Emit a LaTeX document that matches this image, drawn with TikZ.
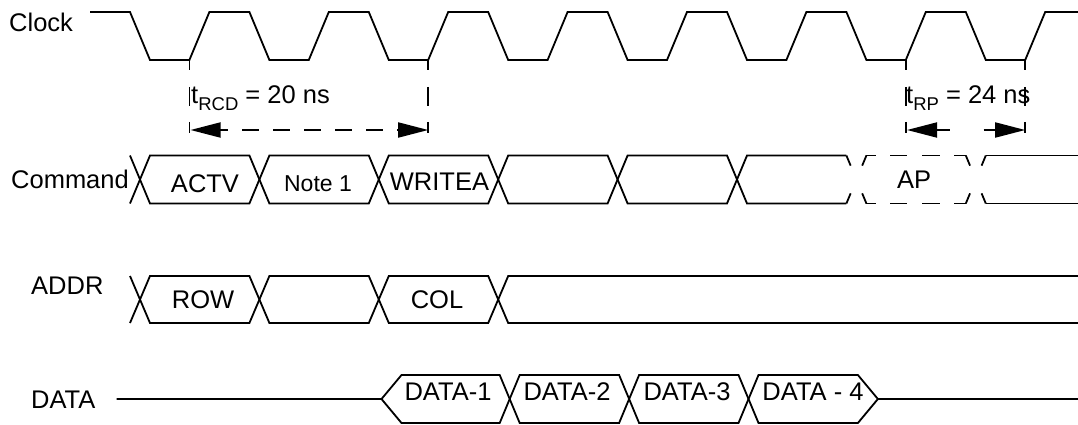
\documentclass[tikz,border=0pt]{standalone}
\usepackage{fontspec}
\setmainfont{Liberation Sans}
\usetikzlibrary{arrows.meta}
\begin{document}
\begin{tikzpicture}[x=1pt,y=-1pt,
  sig/.style={line width=1.8pt},
  txt/.style={inner sep=0pt, font=\fontsize{25.5pt}{30pt}\selectfont},
  smalltxt/.style={inner sep=0pt, font=\fontsize{23pt}{27pt}\selectfont},
  xdash/.style={line width=1.8pt, dash pattern=on 11pt off 30pt on 20pt},
  hdash/.style={line width=1.8pt, dash pattern=on 10pt off 14pt on 17pt off 15pt on 18pt off 14pt on 30pt},
  vdash/.style={line width=1.8pt, dash pattern=on 10pt off 17pt on 19pt off 16pt on 11pt off 5pt},
  dimarrow/.style={line width=1.8pt, {Triangle[length=30pt,width=15pt]}-{Triangle[length=30pt,width=15pt]}}]
\useasboundingbox (0,0) rectangle (1078,425);

% signal labels
\node[txt, anchor=base west] (lclk) at (9,32) {Clock};
\node[txt, anchor=base east] (lcmd) at (129,188) {Command};
\node[txt, anchor=base west] (laddr) at (31,294) {ADDR};
\node[txt, anchor=base west] (ldata) at (31,408) {DATA};

% clock
\draw[sig] (90,12) foreach \k in {0,...,7} { -- ({130+119.4*\k},12) -- ({150+119.4*\k},60) -- ({189.4+119.4*\k},60) -- ({209.4+119.4*\k},12) } -- (1078,12);

% command bus
\draw[sig] (130,203.5)--(150,155.5)--(249.4,155.5)--(269.4,203.5)--(368.8,203.5)--(388.8,155.5)--(488.2,155.5)--(508.2,203.5)--(607.6,203.5)--(627.6,155.5)--(727,155.5)--(747,203.5)--(846.4,203.5);
\draw[sig] (130,155.5)--(150,203.5)--(249.4,203.5)--(269.4,155.5)--(368.8,155.5)--(388.8,203.5)--(488.2,203.5)--(508.2,155.5)--(607.6,155.5)--(627.6,203.5)--(727,203.5)--(747,155.5)--(846.4,155.5);
\draw[xdash] (846.4,155.5)--(866.4,203.5);
\draw[xdash] (846.4,203.5)--(866.4,155.5);
\draw[xdash] (965.8,155.5)--(985.8,203.5);
\draw[xdash] (965.8,203.5)--(985.8,155.5);
\draw[hdash] (866.4,155.5)--(965.8,155.5);
\draw[hdash] (866.4,203.5)--(965.8,203.5);
\draw[sig] (985.8,155.5)--(1078,155.5);
\draw[sig] (985.8,203.5)--(1078,203.5);

\node[txt, anchor=base] (actv) at (205,192) {ACTV};
\node[smalltxt, anchor=base] (note) at (318,191) {Note 1};
\node[txt, anchor=base] (writea) at (439.5,190) {WRITEA};
\node[txt, anchor=base] (ap) at (914,188) {AP};

% address bus
\draw[sig] (130,323)--(150,276)--(249.4,276)--(269.4,323)--(368.8,323)--(388.8,276)--(488.2,276)--(508.2,323)--(1078,323);
\draw[sig] (130,276)--(150,323)--(249.4,323)--(269.4,276)--(368.8,276)--(388.8,323)--(488.2,323)--(508.2,276)--(1078,276);
\node[txt, anchor=base] (row) at (203,308) {ROW};
\node[txt, anchor=base] (col) at (437,308) {COL};

% data bus
\draw[sig] (116.5,399)--(381.5,399)--(401.5,375)--(499.7,375)--(519.7,423)--(619.1,423)--(639.1,375)--(738.5,375)--(758.5,423)--(857.9,423)--(877.9,399)--(1078,399);
\draw[sig] (381.5,399)--(401.5,423)--(499.7,423)--(519.7,375)--(619.1,375)--(639.1,423)--(738.5,423)--(758.5,375)--(857.9,375)--(877.9,399);
\node[txt, anchor=base] (d1) at (448,400) {DATA-1};
\node[txt, anchor=base] (d2) at (567,400) {DATA-2};
\node[txt, anchor=base] (d3) at (687,400) {DATA-3};
\node[txt, anchor=base] (d4) at (813,400) {DATA - 4};

% tRCD
\coordinate (rcdAtop) at (189.4,60);
\coordinate (rcdAbot) at (189.4,133);
\coordinate (rcdBtop) at (428.2,60);
\coordinate (rcdBbot) at (428.2,133);
\draw[vdash] (rcdAtop) -- (rcdAbot);
\draw[vdash] (rcdBtop) -- (rcdBbot);
\coordinate (rcdL) at (190.5,130);
\coordinate (rcdR) at (428.2,130);
\draw[dimarrow, dash pattern=on 17pt off 14pt, dash phase=9pt] (rcdL) -- (rcdR);
\node[txt, anchor=base west] (trcd) at (191,104) {t\raisebox{-6pt}{\fontsize{18.5pt}{20pt}\selectfont RCD} = 20 ns};

% tRP
\coordinate (rpAtop) at (905.8,60);
\coordinate (rpAbot) at (905.8,133);
\coordinate (rpBtop) at (1025.2,60);
\coordinate (rpBbot) at (1025.2,133);
\draw[vdash] (rpAtop) -- (rpAbot);
\draw[vdash] (rpBtop) -- (rpBbot);
\coordinate (rpL) at (907,130);
\coordinate (rpR) at (1025.2,130);
\draw[dimarrow, dash pattern=on 13pt off 34pt on 20pt] (rpL) -- (rpR);
\node[txt, anchor=base west] (trp) at (906,104) {t\raisebox{-6pt}{\fontsize{18.5pt}{20pt}\selectfont RP} = 24 ns};
\end{tikzpicture}
\end{document}
